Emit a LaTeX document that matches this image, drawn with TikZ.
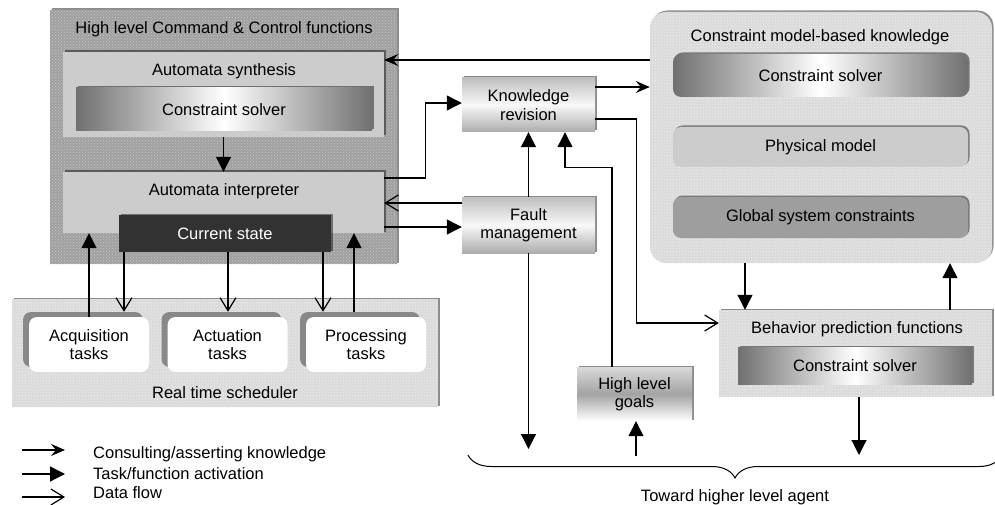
\documentclass[tikz,border=0pt]{standalone}
\usepackage{fontspec}
\setmainfont{Liberation Sans}
\usetikzlibrary{arrows.meta,calc,positioning,shadows,patterns,decorations.pathreplacing}

\definecolor{granite}{RGB}{160,160,160}
\definecolor{paper}{RGB}{218,218,218}
\definecolor{panel}{RGB}{204,204,204}
\definecolor{darkstate}{RGB}{50,50,50}
\definecolor{solveredge}{RGB}{112,112,112}
\definecolor{gscgray}{RGB}{158,158,158}
\definecolor{taskgray}{RGB}{136,136,136}

\newcommand\dfont{\fontsize{16.5pt}{18.5pt}\selectfont}

\tikzset{
  box/.style={draw=none, inner sep=0pt, align=center, font=\dfont},
  lbl/.style={inner sep=0pt, align=center, font=\dfont},
  boxshadow/.style={drop shadow={shadow xshift=1.5pt, shadow yshift=1.5pt, fill=black, opacity=.45}},
  granitebox/.style={box, fill=granite, postaction={pattern=crosshatch dots, pattern color=gray!45}, boxshadow},
  lightbox/.style={box, fill=paper, postaction={pattern=crosshatch dots, pattern color=gray!12}, boxshadow},
  panelbox/.style={box, fill=panel, boxshadow},
  solver/.style={box, left color=solveredge, right color=solveredge, middle color=white, boxshadow},
  statebox/.style={box, fill=darkstate, text=white, boxshadow},
  chromebox/.style={box, top color=gray!50, bottom color=gray!65, middle color=gray!5, boxshadow},
  goalbox/.style={box, top color=gray!30, bottom color=white, middle color=gray!72, boxshadow},
  taskshade/.style={box, fill=taskgray, rounded corners=8pt, minimum width=120pt, minimum height=55pt},
  taskbox/.style={box, fill=white, rounded corners=8pt, minimum width=120pt, minimum height=55pt},
  consult/.style={line width=1.2pt, -{Stealth[length=14pt, width=12pt, inset=5pt]}},
  activ/.style={line width=1.2pt, -{Triangle[length=15pt, width=15pt]}},
  flow/.style={line width=1.2pt, -{Straight Barb[length=13pt, width=16pt, line width=1.2pt]}}
}

\begin{document}
\begin{tikzpicture}[x=1pt,y=1pt,yscale=-1,xscale=1]
\useasboundingbox (0,0) rectangle (995,505);

%High level Command & Control functions
\node[granitebox, minimum width=347pt, minimum height=254pt] (hlcc) at (223.5,137) {};
\node[lbl] (hlcclbl) at (224,29) {High level Command \& Control functions};

%Automata synthesis
\node[panelbox, minimum width=321pt, minimum height=85pt] (synth) at (223.5,94.5) {};
\node[lbl] (synthlbl) at (224,71) {Automata synthesis};
\node[solver, minimum width=296pt, minimum height=43pt] (cs1) at (224,109.5) {Constraint solver};

%Automata interpreter
\node[panelbox, minimum width=321pt, minimum height=61pt] (interp) at (223.5,202.5) {};
\node[lbl] (interplbl) at (224,191) {Automata interpreter};
\node[statebox, minimum width=212pt, minimum height=37pt] (cur) at (225,233.5) {Current state};

%Real time scheduler
\node[lightbox, minimum width=426pt, minimum height=108pt] (rts) at (225,353) {};
\node[lbl] (rtslbl) at (225,393) {Real time scheduler};

%Tasks
\node[taskshade] (acqsh) at (83,339.5) {};
\node[taskbox] (acq) at (89,344.5) {Acquisition\\tasks};
\node[taskshade] (actsh) at (221.5,339.5) {};
\node[taskbox] (act) at (227.5,344.5) {Actuation\\tasks};
\node[taskshade] (procsh) at (360,339.5) {};
\node[taskbox] (proc) at (366,344.5) {Processing\\tasks};

%Knowledge revision, Fault management, goals
\node[chromebox, minimum width=133pt, minimum height=54pt] (kr) at (528.5,105) {Knowledge\\revision};
\node[chromebox, minimum width=133pt, minimum height=56pt] (fm) at (528.5,225) {Fault\\management};
\node[goalbox, minimum width=115pt, minimum height=54pt] (hlg) at (634.5,394) {High level\\goals};

%Constraint model-based knowledge
\node[lightbox, rounded corners=16pt, minimum width=342pt, minimum height=251pt] (cmbk) at (821,137.5) {};
\node[lbl] (cmbklbl) at (820,37) {Constraint model-based knowledge};
\node[solver, rounded corners=8pt, minimum width=295pt, minimum height=43pt] (cs2) at (820.5,75.5) {Constraint solver};
\node[panelbox, rounded corners=8pt, minimum width=295pt, minimum height=40pt] (phys) at (820.5,147) {Physical model};
\node[panelbox, fill=gscgray, rounded corners=8pt, minimum width=295pt, minimum height=41pt] (gsc) at (820.5,217.5) {Global system constraints};

%Behavior prediction functions
\node[lightbox, minimum width=273pt, minimum height=87pt] (bp) at (855.5,353.5) {};
\node[lbl] (bplbl) at (857,329) {Behavior prediction functions};
\node[solver, minimum width=234pt, minimum height=37pt] (cs3) at (855,365.5) {Constraint solver};

%free ends toward the higher level agent
\coordinate (fmout) at (528.5,449);
\coordinate (bpout) at (859,455);
\coordinate (hlgin) at (636,456);

%Consulting/asserting knowledge
\draw[consult] ($(cmbk.west)+(0,-77.5)$) -- ($(synth.east)+(0,-34.5)$);
\draw[consult] ($(kr.east)+(0,-18)$) -- ($(cmbk.west)+(0,-50.5)$);

%Task/function activation
\draw[activ] (synth.south) -- (interp.north);
\draw[activ] ($(interp.east)+(0,-24.5)$) -- ++(41,0) |- ($(kr.west)+(0,-2)$);
\draw[activ] ($(interp.east)+(0,24.5)$) -- ($(fm.west)+(0,2)$);
\draw[activ] (fm.north) -- (kr.south);
\draw[activ] ($(hlg.north)+(-22.5,0)$) |- ($(kr.south)+(36.5,35)$) -- ($(kr.south)+(36.5,0)$);
\draw[activ] ($(cmbk.south)+(-76,0)$) -- ($(bp.north)+(-110.5,0)$);
\draw[activ] ($(bp.north)+(94.5,0)$) -- ($(cmbk.south)+(129,0)$);
\draw[activ] ($(bp.south)+(3.5,0)$) -- (bpout);
\draw[activ] (fm.south) -- (fmout);
\draw[activ] (hlgin) -- ($(hlg.south)+(1.5,0)$);
\draw[activ] (acq.north) -- (acq.north |- interp.south);
\draw[activ] ($(proc.north)+(-12,-5)$) -- ($(interp.south)+(130.5,0)$);

%Data flow
\draw[flow] ($(fm.west)+(0,-22)$) -- ($(interp.east)+(0,0.5)$);
\draw[flow] ($(kr.east)+(0,14)$) -- ++(41,0) |- ($(bp.west)+(0,-30.5)$);
\draw[flow] ($(cur.south)+(-101,0)$) -- ($(acqsh.north)+(41,0)$);
\draw[flow] ($(cur.south)+(3,0)$) -- ($(actsh.north)+(6.5,0)$);
\draw[flow] ($(cur.south)+(98,0)$) -- ($(procsh.north)+(-37,0)$);

%Brace
\draw[line width=1pt, decorate, decoration={brace, amplitude=23pt}] (1002,455) -- (468,455);
\node[lbl] (toward) at (735,497) {Toward higher level agent};

%Legend
\node[lbl, anchor=west] (leg1) at (93,454) {Consulting/asserting knowledge};
\node[lbl, anchor=west] (leg2) at (93,474) {Task/function activation};
\node[lbl, anchor=west] (leg3) at (93,493) {Data flow};
\coordinate (l1) at (22,450);
\coordinate (l2) at (22,474);
\coordinate (l3) at (22,497);
\draw[consult] (l1) -- ++(43,0);
\draw[activ] (l2) -- ++(43,0);
\draw[flow] (l3) -- ++(43,0);

\end{tikzpicture}
\end{document}
